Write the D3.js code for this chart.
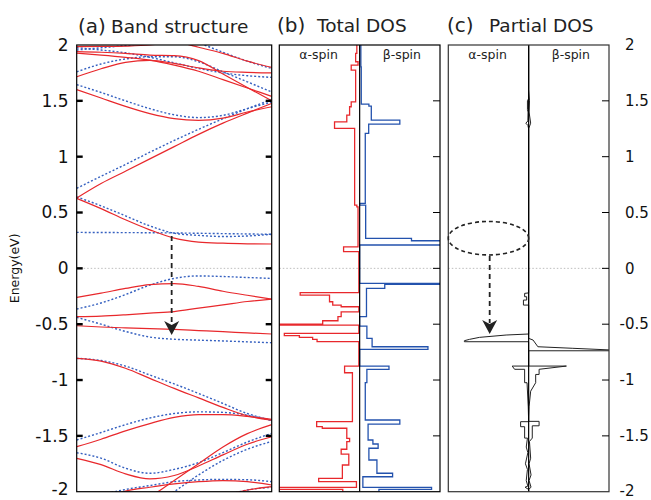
<!DOCTYPE html>
<html><head><meta charset="utf-8">
<script src="https://cdn.jsdelivr.net/npm/d3@7"></script>
<style>
body{margin:0;background:#fff;}
svg{display:block;font-family:"DejaVu Sans",sans-serif;}
</style>
</head><body>
<svg id="chart" width="651" height="500"></svg>
<script>
// ---- data ---------------------------------------------------------------
// fractional position along the k-path at which band energies are sampled
const kPoints = [0, 0.125, 0.25, 0.375, 0.5, 0.625, 0.75, 0.875, 1];

// alpha-spin bands (eV), solid red
const alphaBands = [
  [1.985, 1.987, 1.99, 2.0, 2.03, 2.07, 2.1, 2.12, 2.13],
  [1.94, 1.935, 1.925, 1.91, 1.905, 1.86, 1.74, 1.62, 1.50],
  [2.3, 2.25, 2.2, 2.12, 2.04, 1.98, 1.925, 1.855, 1.80],
  [1.927, 1.91, 1.89, 1.865, 1.82, 1.765, 1.69, 1.615, 1.54],
  [1.715, 1.787, 1.845, 1.862, 1.835, 1.795, 1.765, 1.755, 1.75],
  [1.60, 1.525, 1.45, 1.385, 1.34, 1.325, 1.345, 1.40, 1.447],
  [0.63, 0.76, 0.87, 0.98, 1.09, 1.20, 1.30, 1.39, 1.477],
  [0.627, 0.535, 0.435, 0.345, 0.27, 0.235, 0.225, 0.22, 0.218],
  [-0.26, -0.222, -0.18, -0.145, -0.136, -0.162, -0.205, -0.241, -0.275],
  [-0.433, -0.428, -0.416, -0.401, -0.387, -0.356, -0.327, -0.297, -0.275],
  [-0.514, -0.525, -0.533, -0.54, -0.547, -0.557, -0.567, -0.578, -0.588],
  [-0.806, -0.83, -0.895, -0.985, -1.075, -1.16, -1.245, -1.32, -1.36],
  [-1.597, -1.53, -1.455, -1.39, -1.335, -1.31, -1.31, -1.325, -1.352],
  [-1.701, -1.758, -1.84, -1.885, -1.855, -1.77, -1.67, -1.575, -1.508],
  [-2.5, -2.35, -2.2, -2.05, -1.9, -1.75, -1.6, -1.48, -1.40],
  [-2.15, -2.07, -1.995, -1.96, -1.93, -1.91, -1.9, -1.91, -1.94],
  [-2.6, -2.5, -2.4, -2.3, -2.2, -2.12, -2.04, -1.985, -1.955]
];

// beta-spin bands (eV), dotted blue
const betaBands = [
  [1.955, 1.975, 1.995, 2.02, 2.05, 2.08, 2.1, 2.12, 2.13],
  [2.4, 2.35, 2.3, 2.2, 2.1, 2.02, 1.935, 1.855, 1.79],
  [1.76, 1.83, 1.875, 1.895, 1.895, 1.85, 1.76, 1.67, 1.58],
  [1.975, 1.955, 1.93, 1.89, 1.84, 1.79, 1.75, 1.725, 1.71],
  [1.645, 1.575, 1.50, 1.43, 1.375, 1.35, 1.37, 1.43, 1.49],
  [0.716, 0.825, 0.93, 1.04, 1.145, 1.245, 1.34, 1.43, 1.51],
  [0.64, 0.56, 0.47, 0.38, 0.315, 0.295, 0.285, 0.29, 0.305],
  [0.322, 0.321, 0.32, 0.319, 0.317, 0.314, 0.311, 0.308, 0.305],
  [-0.364, -0.31, -0.235, -0.15, -0.09, -0.068, -0.073, -0.082, -0.09],
  [-0.439, -0.50, -0.565, -0.615, -0.635, -0.643, -0.65, -0.658, -0.666],
  [-0.806, -0.825, -0.875, -0.955, -1.035, -1.12, -1.21, -1.3, -1.36],
  [-1.537, -1.47, -1.40, -1.34, -1.30, -1.285, -1.29, -1.315, -1.364],
  [-1.651, -1.70, -1.79, -1.835, -1.80, -1.74, -1.65, -1.555, -1.477],
  [-2.6, -2.45, -2.3, -2.15, -2.0, -1.85, -1.72, -1.62, -1.55],
  [-2.1, -2.03, -1.98, -1.945, -1.91, -1.895, -1.89, -1.893, -1.91],
  [-2.6, -2.5, -2.4, -2.3, -2.2, -2.11, -2.04, -1.985, -1.96]
];

// total DOS, histogram: bin edges (eV) and the value in each bin
const alphaDosE = [2.0, 1.925, 1.85, 1.82, 1.775, 1.49, 1.447, 1.372, 1.312, 1.253, 0.567, 0.551, 0.193, 0.149,
  -0.218, -0.239, -0.299, -0.329, -0.344, -0.389, -0.433, -0.469, -0.499, -0.508, -0.582, -0.603, -0.618,
  -0.636, -0.657, -0.875, -0.935, -1.373, -1.418, -1.432, -1.522, -1.552, -1.62, -1.663, -1.761, -1.88,
  -1.91, -1.961, -1.979, -2.0];
const alphaDos = [0.7, 1.0, 0.4, 2.1, 1.0, 2.1, 2.5, 3.2, 6.25, 1.25, 0.7, 0.4, 4.0, 0.2, 14.8, 7.5, 6.7, 4.6,
  0.2, 4.6, 5.4, 9.2, 20.5, 0.2, 18.75, 15, 11.7, 10.6, 0.2, 3.75, 1.8, 10.7, 9.3, 3.2, 2.5, 3.2, 4.6, 2.7,
  4.3, 10.2, 0.8, 20.5, 4.2];
const betaDosE = [2.0, 1.805, 1.471, 1.453, 1.328, 1.291, 1.209, 0.582, 0.567, 0.269, 0.247, 0.209, -0.134,
  -0.143, -0.179, -0.433, -0.517, -0.627, -0.702, -0.725, -0.875, -0.904, -1.024, -1.358, -1.394, -1.537,
  -1.573, -1.611, -1.716, -1.835, -1.866, -1.961, -1.979, -2.0];
const betaDos = [0.3, 0.4, 2.3, 2.9, 10, 2.25, 1.4, 0, 1.5, 12.9, 20.5, 0, 20.5, 6.25, 1.7, 0, 1.8, 3.1, 17, 0,
  7.3, 1.8, 1.4, 10, 2.1, 3.3, 4.6, 2.3, 4.3, 8.2, 0.8, 17.9, 4.8];

// partial DOS, traced as polylines (energy, value)
const pdosAlphaE = [2.0, 1.52, 1.50, 1.42, 1.40, 1.32, 1.30, 1.28, 1.25, -0.22, -0.224, -0.254, -0.254, -0.284,
  -0.284, -0.329, -0.329, -0.588, -0.597, -0.618, -0.636, -0.648, -0.657, -0.657, -0.875, -0.875, -0.904,
  -0.904, -1.024, -1.024, -1.24, -1.373, -1.373, -1.418, -1.418, -1.52, -1.52, -1.6, -1.65, -1.75, -1.8,
  -1.9, -1.95, -1.96, -1.98, -2.0];
const pdosAlpha = [0, 0, 0.3, 0.3, 0.15, 0.2, 0.7, 0.2, 0, 0, 1.0, 1.0, 0.5, 0.5, 1.3, 1.3, 0, 0, 5.6, 12.25,
  14.75, 16, 16, 0, 0, 4.1, 3.5, 1.0, 1.0, 0.4, 0.1, 0, 2, 2, 1.0, 1.0, 0.3, 0.6, 0.2, 0.8, 0.3, 0.6, 0.2,
  0.9, 0, 0];
const pdosBetaE = [2.0, 1.6, 1.5, 1.4, 1.3, 1.25, -0.627, -0.642, -0.702, -0.716, -0.731, -0.738, -0.738,
  -0.875, -0.875, -0.904, -0.95, -0.95, -1.024, -1.1, -1.24, -1.37, -1.37, -1.41, -1.41, -1.52, -1.55,
  -1.7, -1.75, -1.85, -1.9, -1.96, -1.98, -2.0];
const pdosBeta = [0, 0, 0.2, 0.1, 0.5, 0, 0, 1.1, 2.3, 11, 20.5, 20.5, 0, 0, 9.4, 2.6, 2.6, 1.75, 1.75, 0.5,
  0.1, 0, 2.6, 2.6, 0.9, 0.9, 0.2, 0.5, 0.1, 0.6, 0.1, 0.6, 0, 0];

const energyTicks = [2, 1.5, 1, 0.5, 0, -0.5, -1, -1.5, -2];
const panelTitles = [
  {tag: "(a)", name: "Band structure"},
  {tag: "(b)", name: "Total DOS"},
  {tag: "(c)", name: "Partial DOS"}
];
const spinLabels = ["α-spin", "β-spin"];

// ---- layout ---------------------------------------------------------------
const W = 651, H = 500;
const RED = "#e8282c", BLUE = "#3560c0", DOSBLUE = "#2352ad";
const svg = d3.select("#chart");
const y = d3.scaleLinear().domain([-2, 2]).range([491.7, 45]);
const xa = d3.scaleLinear().domain([0, 1]).range([76.7, 271.7]);
const xb = d3.scaleLinear().domain([-20, 20]).range([279.3, 440]);
const xc = d3.scaleLinear().domain([-20, 20]).range([448.3, 609]);

const panels = [
  {id: "pa", x0: xa(0), x1: xa(1)},
  {id: "pb", x0: xb(-20), x1: xb(20)},
  {id: "pc", x0: xc(-20), x1: xc(20)}
];
const defs = svg.append("defs");
panels.forEach(p => {
  defs.append("clipPath").attr("id", "clip-" + p.id)
    .append("rect").attr("x", p.x0).attr("y", y(2)).attr("width", p.x1 - p.x0).attr("height", y(-2) - y(2));
});

// Fermi level reference, dotted
panels.forEach(p => {
  svg.append("line").attr("x1", p.x0).attr("x2", p.x1).attr("y1", y(0)).attr("y2", y(0))
    .attr("stroke", "#bdbdbd").attr("stroke-width", 1).attr("stroke-dasharray", "1.5,2");
});

// ---- (a) band structure ----------------------------------------------------
const bandLine = d3.line().x((d, i) => xa(kPoints[i])).y(d => y(d)).curve(d3.curveMonotoneX);
const ga = svg.append("g").attr("clip-path", "url(#clip-pa)");
ga.selectAll("path.beta").data(betaBands).join("path").attr("class", "beta")
  .attr("d", bandLine).attr("fill", "none").attr("stroke", BLUE)
  .attr("stroke-width", 1.4).attr("stroke-dasharray", "2,2");
ga.selectAll("path.alpha").data(alphaBands).join("path").attr("class", "alpha")
  .attr("d", bandLine).attr("fill", "none").attr("stroke", RED).attr("stroke-width", 1.2);

// ---- (b) total DOS -------------------------------------------------------------
function steps(edges, vals, sign) {
  const pts = [];
  vals.forEach((v, i) => { pts.push([sign * v, edges[i]]); pts.push([sign * v, edges[i + 1]]); });
  return pts;
}
const gb = svg.append("g").attr("clip-path", "url(#clip-pb)");
const dosLineB = d3.line().x(d => xb(d[0])).y(d => y(d[1]));
gb.append("path").attr("d", dosLineB(steps(alphaDosE, alphaDos, -1)))
  .attr("fill", "none").attr("stroke", RED).attr("stroke-width", 1.3);
gb.append("path").attr("d", dosLineB(steps(betaDosE, betaDos, 1)))
  .attr("fill", "none").attr("stroke", DOSBLUE).attr("stroke-width", 1.3);
svg.append("line").attr("x1", xb(0)).attr("x2", xb(0)).attr("y1", y(2)).attr("y2", y(-2))
  .attr("stroke", "#000").attr("stroke-width", 1.2);

// ---- (c) partial DOS -----------------------------------------------------------
const gc = svg.append("g").attr("clip-path", "url(#clip-pc)");
const dosLineC = d3.line().x(d => xc(d[0])).y(d => y(d[1]));
svg.append("line").attr("x1", xc(0)).attr("x2", xc(0)).attr("y1", y(2)).attr("y2", y(-2))
  .attr("stroke", "#000").attr("stroke-width", 1.2);
gc.append("path").attr("d", dosLineC(pdosAlphaE.map((e, i) => [-pdosAlpha[i], e])))
  .attr("fill", "none").attr("stroke", "#222").attr("stroke-width", 1);
gc.append("path").attr("d", dosLineC(pdosBetaE.map((e, i) => [pdosBeta[i], e])))
  .attr("fill", "none").attr("stroke", "#222").attr("stroke-width", 1);

// ---- frames and ticks ----------------------------------------------------------
panels.forEach((p, i) => {
  svg.append("rect").attr("x", p.x0).attr("y", y(2)).attr("width", p.x1 - p.x0).attr("height", y(-2) - y(2))
    .attr("fill", "none").attr("stroke", i === 2 ? "#333" : "#000").attr("stroke-width", 1.2);
});
const inner = energyTicks.filter(t => Math.abs(t) < 2);
inner.forEach(t => {
  svg.append("line").attr("x1", xa(0)).attr("x2", xa(0) + 6).attr("y1", y(t)).attr("y2", y(t))
    .attr("stroke", "#000").attr("stroke-width", 2.4);
  svg.append("line").attr("x1", xa(1) - 6).attr("x2", xa(1)).attr("y1", y(t)).attr("y2", y(t))
    .attr("stroke", "#000").attr("stroke-width", 2.4);
  svg.append("line").attr("x1", xb(20) - 7).attr("x2", xb(20)).attr("y1", y(t)).attr("y2", y(t))
    .attr("stroke", "#000").attr("stroke-width", 1);
  svg.append("line").attr("x1", xc(20) - 7).attr("x2", xc(20)).attr("y1", y(t)).attr("y2", y(t))
    .attr("stroke", "#000").attr("stroke-width", 1);
});

// ---- axis labels ---------------------------------------------------------------
// baseline centred on the tick, kept inside the canvas for the lowest label
const labelBase = (v, fs) => Math.min(y(v) + 0.35 * fs, H - 0.25 * fs - 0.5);
svg.append("g").selectAll("text").data(energyTicks).join("text")
  .attr("x", 68.5).attr("y", d => labelBase(d, 17)).attr("text-anchor", "end")
  .attr("font-size", 17).attr("fill", "#111").text(d => d);
svg.append("g").selectAll("text").data(energyTicks).join("text")
  .attr("x", d => d < 0 ? 619.5 : 625).attr("y", d => labelBase(d, 15))
  .attr("font-size", 15).attr("fill", "#111").text(d => d);
svg.append("text").attr("transform", `translate(19,${y(0)}) rotate(-90)`)
  .attr("text-anchor", "middle").attr("font-size", 12.5).attr("fill", "#111").text("Energy(eV)");

// panel titles
const titleX = [[78, 111], [277, 317], [447, 489]];
const titleY = [33, 32, 32];
panelTitles.forEach((t, i) => {
  svg.append("text").attr("x", titleX[i][0]).attr("y", titleY[i]).attr("font-size", 20)
    .attr("fill", "#222").text(t.tag);
  svg.append("text").attr("x", titleX[i][1]).attr("y", titleY[i]).attr("font-size", 18.5)
    .attr("fill", "#222").text(t.name);
});

// spin labels in each DOS panel
[xb, xc].forEach(sc => {
  svg.append("text").attr("x", sc(-10.2)).attr("y", 59).attr("text-anchor", "middle")
    .attr("font-size", 12.5).attr("fill", "#222").text(spinLabels[0]);
  svg.append("text").attr("x", sc(10.5)).attr("y", 59).attr("text-anchor", "middle")
    .attr("font-size", 12.5).attr("fill", "#222").text(spinLabels[1]);
});

// ---- annotations: dashed arrows and the ellipse ---------------------------------
function dashedArrow(x, e0, e1) {
  const tip = y(e1), top = tip - 14;
  svg.append("line").attr("x1", x).attr("x2", x).attr("y1", y(e0)).attr("y2", top + 3)
    .attr("stroke", "#222").attr("stroke-width", 1.8).attr("stroke-dasharray", "5,4");
  svg.append("path").attr("d", `M${x - 7.5},${top} L${x},${top + 4} L${x + 7.5},${top} L${x},${tip} Z`)
    .attr("fill", "#222");
}
dashedArrow(xa(0.487), 0.29, -0.597);
svg.append("ellipse").attr("cx", xc(-10)).attr("cy", y(0.27)).attr("rx", xc(0) - xc(-10))
  .attr("ry", y(0.12) - y(0.27)).attr("fill", "none").attr("stroke", "#222")
  .attr("stroke-width", 1.6).attr("stroke-dasharray", "4,3");
dashedArrow(xc(-9.7), 0.11, -0.588);
</script>
</body></html>
